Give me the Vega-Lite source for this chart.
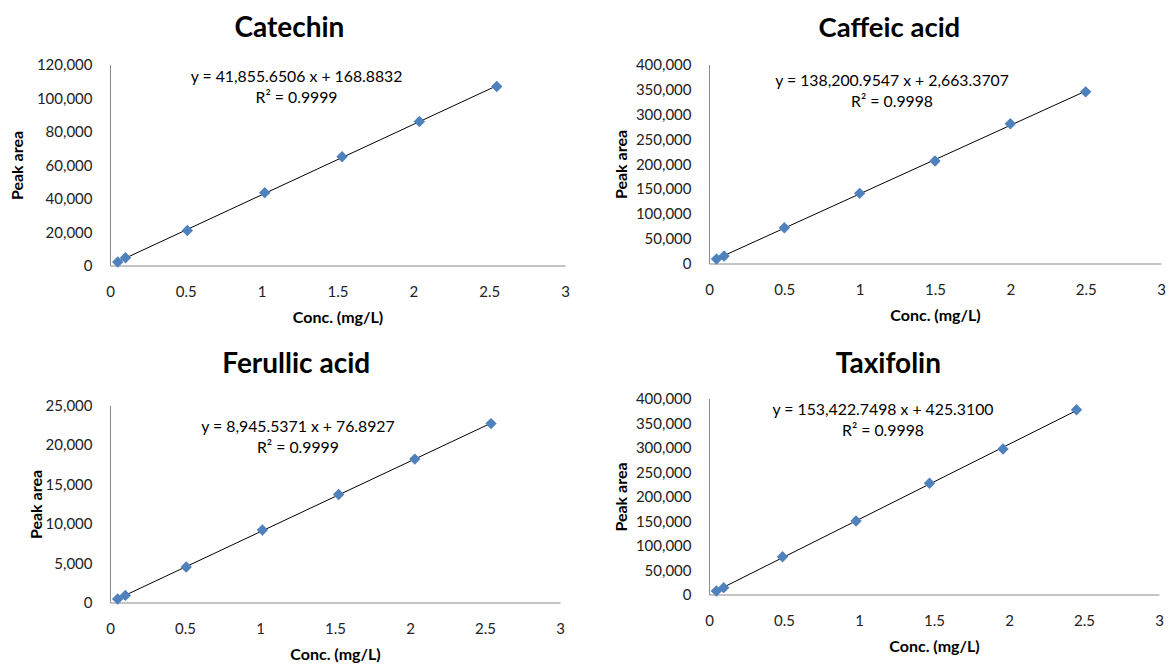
{
  "$schema": "https://vega.github.io/schema/vega-lite/v6.json",
  "background": "white",
  "padding": {"left": 9, "top": 14.5, "right": 2, "bottom": 2},
  "datasets": {
    "catechin": [
      {"conc": 0.051, "area": 2100},
      {"conc": 0.102, "area": 4600},
      {"conc": 0.51, "area": 20900},
      {"conc": 1.02, "area": 43500},
      {"conc": 1.53, "area": 64900},
      {"conc": 2.04, "area": 86000},
      {"conc": 2.55, "area": 106900}
    ],
    "caffeic": [
      {"conc": 0.05, "area": 9000},
      {"conc": 0.1, "area": 15000},
      {"conc": 0.5, "area": 72000},
      {"conc": 1.0, "area": 141000},
      {"conc": 1.5, "area": 206000},
      {"conc": 2.0, "area": 281000},
      {"conc": 2.5, "area": 345000}
    ],
    "ferullic": [
      {"conc": 0.051, "area": 450},
      {"conc": 0.102, "area": 900},
      {"conc": 0.508, "area": 4500},
      {"conc": 1.016, "area": 9200},
      {"conc": 1.524, "area": 13700},
      {"conc": 2.032, "area": 18200},
      {"conc": 2.54, "area": 22700}
    ],
    "taxifolin": [
      {"conc": 0.049, "area": 7000},
      {"conc": 0.098, "area": 14000},
      {"conc": 0.49, "area": 77000},
      {"conc": 0.98, "area": 150000},
      {"conc": 1.47, "area": 227000},
      {"conc": 1.96, "area": 297000},
      {"conc": 2.45, "area": 377000}
    ]
  },
  "config": {
    "view": {"stroke": null},
    "font": "Lato",
    "title": {"font": "Lato", "fontSize": 28, "fontWeight": "bold", "color": "#000000", "anchor": "middle", "frame": "bounds", "offset": 15},
    "axis": {
      "domainColor": "#8a8a8a",
      "domainWidth": 1,
      "ticks": false,
      "grid": false,
      "labelFont": "Lato",
      "labelFontSize": 15,
      "labelColor": "#222222",
      "labelOverlap": false,
      "titleFont": "Lato",
      "titleFontSize": 16,
      "titleFontWeight": "bold",
      "titleColor": "#000000"
    },
    "axisX": {"labelPadding": 19, "titlePadding": 10, "labelFlush": false},
    "axisY": {"labelPadding": 18}
  },
  "concat": [
    {
      "title": {"text": "Catechin", "offset": 15},
      "width": 455,
      "height": 201,
      "data": {"name": "catechin"},
      "layer": [
        {
          "transform": [{"regression": "area", "on": "conc"}],
          "mark": {"type": "line", "color": "#000000", "strokeWidth": 1},
          "encoding": {
            "x": {"field": "conc", "type": "quantitative", "scale": {"domain": [0, 3]}, "axis": {"title": "Conc. (mg/L)", "values": [0, 0.5, 1, 1.5, 2, 2.5, 3], "format": "~g", "labelOverlap": false}},
            "y": {"field": "area", "type": "quantitative", "scale": {"domain": [0, 120000]}, "axis": {"title": "Peak area", "values": [0, 20000, 40000, 60000, 80000, 100000, 120000], "format": ",.0f", "titlePadding": 11, "labelOverlap": false}}
          }
        },
        {
          "mark": {"type": "point", "shape": "diamond", "filled": true, "color": "#4F81BD", "opacity": 1, "size": 130},
          "encoding": {
            "x": {"field": "conc", "type": "quantitative", "scale": {"domain": [0, 3]}, "axis": {"title": "Conc. (mg/L)", "values": [0, 0.5, 1, 1.5, 2, 2.5, 3], "format": "~g", "labelOverlap": false}},
            "y": {"field": "area", "type": "quantitative", "scale": {"domain": [0, 120000]}, "axis": {"title": "Peak area", "values": [0, 20000, 40000, 60000, 80000, 100000, 120000], "format": ",.0f", "titlePadding": 11, "labelOverlap": false}}
          }
        },
        {
          "data": {"values": [{}]},
          "mark": {"type": "text", "font": "Lato", "fontSize": 15.8, "color": "#000000", "align": "center", "baseline": "middle", "lineHeight": 21},
          "encoding": {
            "x": {"datum": 1.23, "type": "quantitative", "scale": {"domain": [0, 3]}, "axis": {"title": "Conc. (mg/L)", "values": [0, 0.5, 1, 1.5, 2, 2.5, 3], "format": "~g", "labelOverlap": false}},
            "y": {"datum": 112800, "type": "quantitative", "scale": {"domain": [0, 120000]}, "axis": {"title": "Peak area", "values": [0, 20000, 40000, 60000, 80000, 100000, 120000], "format": ",.0f", "titlePadding": 11, "labelOverlap": false}},
            "text": {"value": ["y = 41,855.6506 x + 168.8832", "R² = 0.9999"]}
          }
        }
      ]
    },
    {
      "title": {"text": "Caffeic acid", "fontSize": 27.5, "offset": 15.5},
      "width": 452,
      "height": 199,
      "data": {"name": "caffeic"},
      "layer": [
        {
          "transform": [{"regression": "area", "on": "conc"}],
          "mark": {"type": "line", "color": "#000000", "strokeWidth": 1},
          "encoding": {
            "x": {"field": "conc", "type": "quantitative", "scale": {"domain": [0, 3]}, "axis": {"title": "Conc. (mg/L)", "values": [0, 0.5, 1, 1.5, 2, 2.5, 3], "format": "~g", "labelOverlap": false}},
            "y": {"field": "area", "type": "quantitative", "scale": {"domain": [0, 400000]}, "axis": {"title": "Peak area", "values": [0, 50000, 100000, 150000, 200000, 250000, 300000, 350000, 400000], "format": ",.0f", "titlePadding": 6, "labelOverlap": false}}
          }
        },
        {
          "mark": {"type": "point", "shape": "diamond", "filled": true, "color": "#4F81BD", "opacity": 1, "size": 130},
          "encoding": {
            "x": {"field": "conc", "type": "quantitative", "scale": {"domain": [0, 3]}, "axis": {"title": "Conc. (mg/L)", "values": [0, 0.5, 1, 1.5, 2, 2.5, 3], "format": "~g", "labelOverlap": false}},
            "y": {"field": "area", "type": "quantitative", "scale": {"domain": [0, 400000]}, "axis": {"title": "Peak area", "values": [0, 50000, 100000, 150000, 200000, 250000, 300000, 350000, 400000], "format": ",.0f", "titlePadding": 6, "labelOverlap": false}}
          }
        },
        {
          "data": {"values": [{}]},
          "mark": {"type": "text", "font": "Lato", "fontSize": 15.8, "color": "#000000", "align": "center", "baseline": "middle", "lineHeight": 21},
          "encoding": {
            "x": {"datum": 1.215, "type": "quantitative", "scale": {"domain": [0, 3]}, "axis": {"title": "Conc. (mg/L)", "values": [0, 0.5, 1, 1.5, 2, 2.5, 3], "format": "~g", "labelOverlap": false}},
            "y": {"datum": 367800, "type": "quantitative", "scale": {"domain": [0, 400000]}, "axis": {"title": "Peak area", "values": [0, 50000, 100000, 150000, 200000, 250000, 300000, 350000, 400000], "format": ",.0f", "titlePadding": 6, "labelOverlap": false}},
            "text": {"value": ["y = 138,200.9547 x + 2,663.3707", "R² = 0.9998"]}
          }
        }
      ]
    },
    {
      "title": {"text": "Ferullic acid", "offset": 20},
      "width": 450,
      "height": 197,
      "data": {"name": "ferullic"},
      "layer": [
        {
          "transform": [{"regression": "area", "on": "conc"}],
          "mark": {"type": "line", "color": "#000000", "strokeWidth": 1},
          "encoding": {
            "x": {"field": "conc", "type": "quantitative", "scale": {"domain": [0, 3]}, "axis": {"title": "Conc. (mg/L)", "values": [0, 0.5, 1, 1.5, 2, 2.5, 3], "format": "~g", "labelOverlap": false}},
            "y": {"field": "area", "type": "quantitative", "scale": {"domain": [0, 25000]}, "axis": {"title": "Peak area", "values": [0, 5000, 10000, 15000, 20000, 25000], "format": ",.0f", "titlePadding": 1, "labelOverlap": false}}
          }
        },
        {
          "mark": {"type": "point", "shape": "diamond", "filled": true, "color": "#4F81BD", "opacity": 1, "size": 130},
          "encoding": {
            "x": {"field": "conc", "type": "quantitative", "scale": {"domain": [0, 3]}, "axis": {"title": "Conc. (mg/L)", "values": [0, 0.5, 1, 1.5, 2, 2.5, 3], "format": "~g", "labelOverlap": false}},
            "y": {"field": "area", "type": "quantitative", "scale": {"domain": [0, 25000]}, "axis": {"title": "Peak area", "values": [0, 5000, 10000, 15000, 20000, 25000], "format": ",.0f", "titlePadding": 1, "labelOverlap": false}}
          }
        },
        {
          "data": {"values": [{}]},
          "mark": {"type": "text", "font": "Lato", "fontSize": 15.8, "color": "#000000", "align": "center", "baseline": "middle", "lineHeight": 21},
          "encoding": {
            "x": {"datum": 1.253, "type": "quantitative", "scale": {"domain": [0, 3]}, "axis": {"title": "Conc. (mg/L)", "values": [0, 0.5, 1, 1.5, 2, 2.5, 3], "format": "~g", "labelOverlap": false}},
            "y": {"datum": 22330, "type": "quantitative", "scale": {"domain": [0, 25000]}, "axis": {"title": "Peak area", "values": [0, 5000, 10000, 15000, 20000, 25000], "format": ",.0f", "titlePadding": 1, "labelOverlap": false}},
            "text": {"value": ["y = 8,945.5371 x + 76.8927", "R² = 0.9999"]}
          }
        }
      ]
    },
    {
      "title": {"text": "Taxifolin", "offset": 13},
      "width": 450,
      "height": 196,
      "data": {"name": "taxifolin"},
      "layer": [
        {
          "transform": [{"regression": "area", "on": "conc"}],
          "mark": {"type": "line", "color": "#000000", "strokeWidth": 1},
          "encoding": {
            "x": {"field": "conc", "type": "quantitative", "scale": {"domain": [0, 3]}, "axis": {"title": "Conc. (mg/L)", "values": [0, 0.5, 1, 1.5, 2, 2.5, 3], "format": "~g", "labelOverlap": false}},
            "y": {"field": "area", "type": "quantitative", "scale": {"domain": [0, 400000]}, "axis": {"title": "Peak area", "values": [0, 50000, 100000, 150000, 200000, 250000, 300000, 350000, 400000], "format": ",.0f", "titlePadding": 6, "labelOverlap": false}}
          }
        },
        {
          "mark": {"type": "point", "shape": "diamond", "filled": true, "color": "#4F81BD", "opacity": 1, "size": 130},
          "encoding": {
            "x": {"field": "conc", "type": "quantitative", "scale": {"domain": [0, 3]}, "axis": {"title": "Conc. (mg/L)", "values": [0, 0.5, 1, 1.5, 2, 2.5, 3], "format": "~g", "labelOverlap": false}},
            "y": {"field": "area", "type": "quantitative", "scale": {"domain": [0, 400000]}, "axis": {"title": "Peak area", "values": [0, 50000, 100000, 150000, 200000, 250000, 300000, 350000, 400000], "format": ",.0f", "titlePadding": 6, "labelOverlap": false}}
          }
        },
        {
          "data": {"values": [{}]},
          "mark": {"type": "text", "font": "Lato", "fontSize": 15.8, "color": "#000000", "align": "center", "baseline": "middle", "lineHeight": 21},
          "encoding": {
            "x": {"datum": 1.16, "type": "quantitative", "scale": {"domain": [0, 3]}, "axis": {"title": "Conc. (mg/L)", "values": [0, 0.5, 1, 1.5, 2, 2.5, 3], "format": "~g", "labelOverlap": false}},
            "y": {"datum": 377500, "type": "quantitative", "scale": {"domain": [0, 400000]}, "axis": {"title": "Peak area", "values": [0, 50000, 100000, 150000, 200000, 250000, 300000, 350000, 400000], "format": ",.0f", "titlePadding": 6, "labelOverlap": false}},
            "text": {"value": ["y = 153,422.7498 x + 425.3100", "R² = 0.9998"]}
          }
        }
      ]
    }
  ],
  "columns": 2,
  "align": "none",
  "spacing": {"row": 25, "column": 43}
}
